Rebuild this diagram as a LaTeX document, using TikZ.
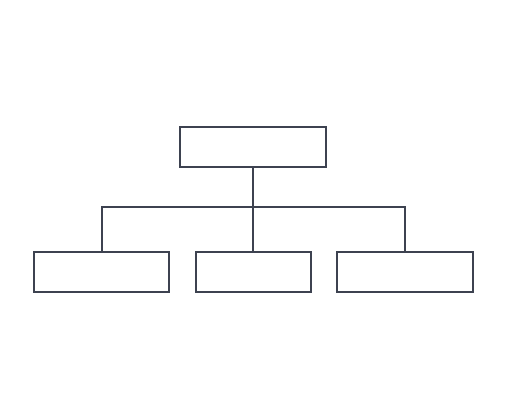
\documentclass[tikz,border=0pt]{standalone}
\usetikzlibrary{positioning}
\definecolor{boxline}{HTML}{3D4250}

\begin{document}
\begin{tikzpicture}[
      x=0.02cm,y=-0.02cm,
      unit/.style={draw=boxline,line width=1.1pt,fill=white,inner sep=0pt,minimum height=0.8cm},
      link/.style={draw=boxline,line width=1.1pt}
      ]

	      \useasboundingbox (0,0) rectangle (513,419);

	      % head of the tree
	      \node[unit,minimum width=2.92cm] (head) at (253.2,146.7) {};

	      % the three branches
	      \node[unit,minimum width=2.71cm] (left) at (101.6,272.3) {};
	      \node[unit,minimum width=2.30cm] (mid) at (253.2,272.3) {};
	      \node[unit,minimum width=2.71cm] (right) at (404.8,272.3) {};

	      \coordinate (bar) at (0,207);

	      \draw[link] (head.south) -- (head.south |- bar);
	      \draw[link] (left.north) -- (left.north |- bar) -- (right.north |- bar) -- (right.north);
	      \draw[link] (head.south |- bar) -- (mid.north);

\end{tikzpicture}
\end{document}
